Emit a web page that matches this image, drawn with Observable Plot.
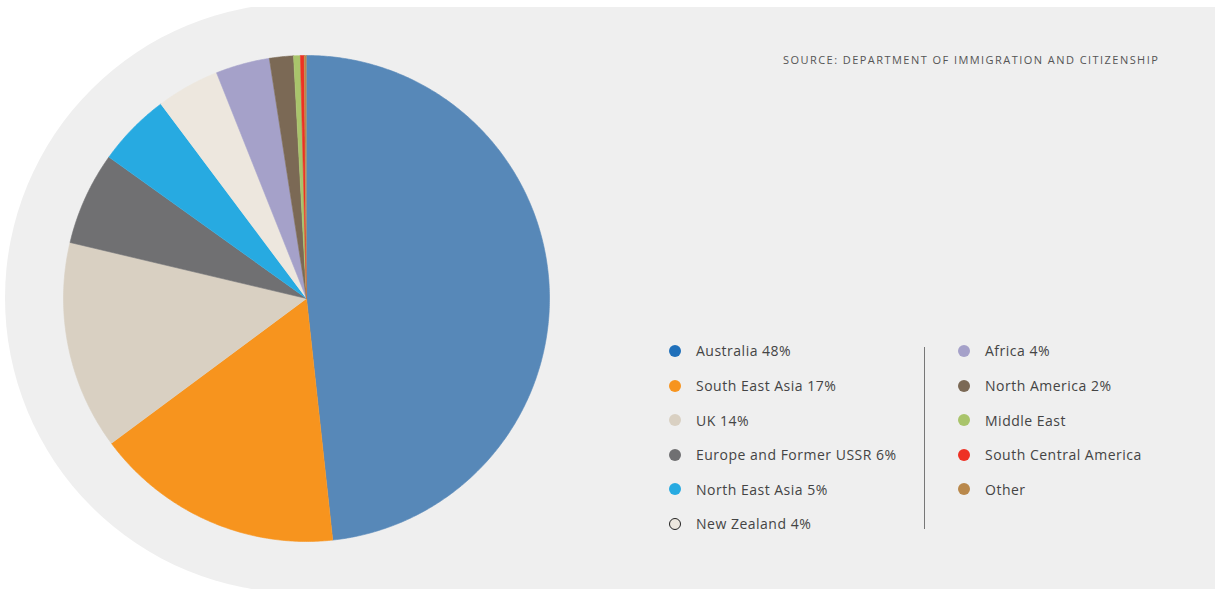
<!DOCTYPE html>
<html>
<head>
<meta charset="utf-8">
<script src="https://cdn.jsdelivr.net/npm/d3@7"></script>
<script src="https://cdn.jsdelivr.net/npm/@observablehq/plot@0.6"></script>
<style>
  html, body { margin: 0; padding: 0; background: #ffffff; }
  body { width: 1215px; height: 589px; position: relative; overflow: hidden;
         font-family: "Open Sans", "DejaVu Sans", sans-serif; }
  #panel { position: absolute; left: 5px; top: 7px; width: 1210px; height: 582px; overflow: hidden; }
  #panel .shape { position: absolute; left: 0; top: -4px; width: 1300px; height: 590px;
                  background: #efefef; border-radius: 295px 0 0 295px; }
  #pie { position: absolute; left: 56px; top: 48px; }
  #pie svg { background: transparent; }
  #source { position: absolute; left: 783px; top: 52px; font-size: 11px; letter-spacing: 1.45px;
            color: #555; white-space: nowrap; }
  .col { position: absolute; }
  .row { height: 34.6px; display: flex; align-items: center; white-space: nowrap;
         font-size: 14px; letter-spacing: 0.5px; color: #444; }
  .dot { width: 12px; height: 12px; border-radius: 50%; box-sizing: border-box; margin-right: 15px; flex: none; }
  #divider { position: absolute; left: 924px; top: 347px; width: 1px; height: 182px; background: #777; }
</style>
</head>
<body>
<div id="panel"><div class="shape"></div></div>
<div id="pie"></div>
<div id="source">SOURCE: DEPARTMENT OF IMMIGRATION AND CITIZENSHIP</div>
<div id="legendLeft" class="col" style="left:669px; top:333.7px;"></div>
<div id="divider"></div>
<div id="legendRight" class="col" style="left:958px; top:333.7px;"></div>
<script>
// Region of birth, share of population (%)
const regions = ["Australia", "South East Asia", "UK", "Europe and Former USSR", "North East Asia",
                 "New Zealand", "Africa", "North America", "Middle East", "South Central America", "Other"];
const shares = [48.4, 16.6, 13.9, 6.2, 4.9, 4.2, 3.6, 1.6, 0.45, 0.25, 0.15];
const showShare = [true, true, true, true, true, true, true, true, false, false, false];
const sliceColors = ["#5788b8", "#f7941e", "#d9d0c2", "#707072", "#27aae1", "#ede7de",
                     "#a5a1c9", "#7b6955", "#a9c46b", "#ee3124", "#b9884b"];
const legendColors = ["#1f70ba", "#f7941e", "#d9d0c2", "#707072", "#27aae1", "#ede7de",
                      "#a5a1c9", "#7b6955", "#a9c46b", "#ee3124", "#b9884b"];

const rows = regions.map((name, i) => ({name, share: shares[i]}));

// Wedge outlines: centre point followed by the arc, clockwise from 12 o'clock
const arcs = d3.pie().sort(null).value(d => d.share).startAngle(0).endAngle(2 * Math.PI)(rows);
const points = arcs.flatMap(a => {
  const n = Math.max(2, Math.ceil((a.endAngle - a.startAngle) / (Math.PI / 360)));
  const pts = [{name: a.data.name, x: 0, y: 0}];
  for (let i = 0; i <= n; i++) {
    const t = a.startAngle + (a.endAngle - a.startAngle) * i / n;
    pts.push({name: a.data.name, x: Math.sin(t), y: Math.cos(t)});
  }
  return pts;
});

const chart = Plot.plot({
  width: 500,
  height: 500,
  margin: 7,
  x: {domain: [-1, 1], axis: null},
  y: {domain: [-1, 1], axis: null},
  color: {domain: regions, range: sliceColors},
  marks: [
    Plot.line(points, {x: "x", y: "y", z: "name", fill: "name", stroke: "name", strokeWidth: 0.6, curve: "linear"})
  ]
});
document.getElementById("pie").append(chart);

// Legend in two columns
function legendRow(i) {
  const row = document.createElement("div");
  row.className = "row";
  const dot = document.createElement("span");
  dot.className = "dot";
  dot.style.background = legendColors[i];
  if (regions[i] === "New Zealand") dot.style.border = "1.2px solid #222";
  const label = document.createElement("span");
  label.textContent = showShare[i] ? `${regions[i]} ${Math.round(shares[i])}%` : regions[i];
  row.append(dot, label);
  return row;
}
const left = document.getElementById("legendLeft");
const right = document.getElementById("legendRight");
regions.forEach((_, i) => (i < 6 ? left : right).append(legendRow(i)));
</script>
</body>
</html>
